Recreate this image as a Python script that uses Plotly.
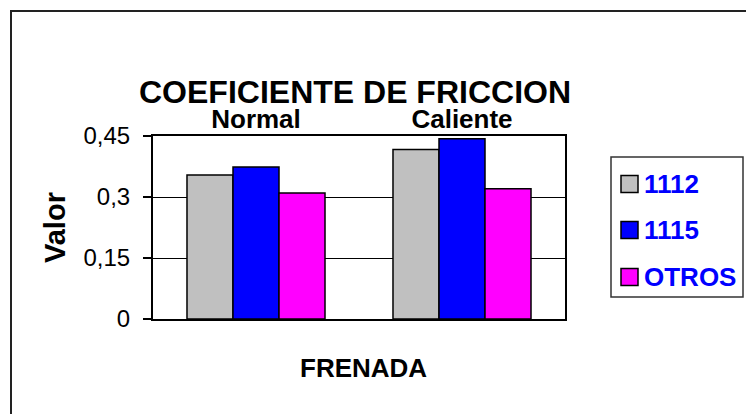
import plotly.graph_objects as go

categories = ["Normal", "Caliente"]
series_names = ["1112", "1115", "OTROS"]
values_1112 = [0.354, 0.417]
values_1115 = [0.374, 0.443]
values_otros = [0.310, 0.320]
y_tick_vals = [0, 0.15, 0.3, 0.45]
y_tick_text = ["0", "0,15", "0,3", "0,45"]

colors = ["#C0C0C0", "#0000FF", "#FF00FF"]
FONT = "Arial, Liberation Sans, sans-serif"

OFF = 8  # page body margin
W, H = 754 - OFF, 414 - OFF
L, R, T, B = 153, 565, 136, 319  # plot area in page px


def px(x):
    return (x - L) / (R - L)


def py(y):
    return (B - y) / (B - T)


fig = go.Figure()
for name, vals, col in zip(series_names, [values_1112, values_1115, values_otros], colors):
    fig.add_trace(go.Bar(
        x=categories, y=vals, name=name,
        marker=dict(color=col, line=dict(color="black", width=1.5)),
        showlegend=False,
    ))

shapes = []
annotations = []
# outer chart border
shapes.append(dict(type="rect", xref="paper", yref="paper",
                   x0=px(11), x1=px(751), y0=py(420), y1=py(11),
                   line=dict(color="#222", width=2), layer="below"))
# legend box
shapes.append(dict(type="rect", xref="paper", yref="paper",
                   x0=px(611), x1=px(743), y0=py(297), y1=py(157),
                   line=dict(color="#333", width=1.5)))
leg_y = [184, 230, 277]
for name, col, yc in zip(series_names, colors, leg_y):
    shapes.append(dict(type="rect", xref="paper", yref="paper",
                       x0=px(621), x1=px(638), y0=py(yc + 8.5), y1=py(yc - 8.5),
                       fillcolor=col, line=dict(color="black", width=1.5)))
    annotations.append(dict(text="<b>%s</b>" % name, xref="paper", yref="paper",
                            x=px(642), y=py(yc), xanchor="left", yanchor="middle",
                            showarrow=False, font=dict(family=FONT, size=26, color="#0000FF")))

annotations.append(dict(text="<b>COEFICIENTE DE FRICCION</b>", xref="paper", yref="paper",
                        x=px(355), y=py(92), xanchor="center", yanchor="middle",
                        showarrow=False, font=dict(family=FONT, size=32, color="black")))
annotations.append(dict(text="<b>FRENADA</b>", xref="paper", yref="paper",
                        x=px(363), y=py(368), xanchor="center", yanchor="middle",
                        showarrow=False, font=dict(family=FONT, size=26, color="black")))
annotations.append(dict(text="<b>Valor</b>", xref="paper", yref="paper",
                        x=px(55), y=py(228), xanchor="center", yanchor="middle", textangle=-90,
                        showarrow=False, font=dict(family=FONT, size=29, color="black")))

fig.update_layout(
    width=W, height=H,
    margin=dict(l=L - OFF, r=W - (R - OFF), t=T - OFF, b=H - (B - OFF), pad=0),
    paper_bgcolor="white", plot_bgcolor="white",
    barmode="group", bargap=0.33, bargroupgap=0,
    font=dict(family=FONT, color="black"),
    shapes=shapes, annotations=annotations,
    showlegend=False,
)
fig.update_xaxes(
    side="top", showline=True, linecolor="black", linewidth=2, mirror=True,
    ticks="", showgrid=False,
    tickfont=dict(family=FONT, size=26, color="black"),
    tickprefix="<b>", ticksuffix="</b>", ticklabelstandoff=-4,
)
fig.update_yaxes(
    range=[0, 0.45], tickvals=y_tick_vals, ticktext=y_tick_text,
    showline=True, linecolor="black", linewidth=2, mirror=True,
    ticks="outside", ticklen=8, tickcolor="black", tickwidth=1.5,
    showgrid=True, gridcolor="black", gridwidth=1,
    tickfont=dict(family=FONT, size=24, color="black"),
    ticklabelstandoff=8, zeroline=False,
)

fig.write_html("out.html")
